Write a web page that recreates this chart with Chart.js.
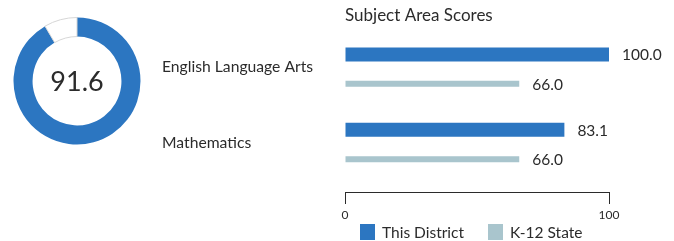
<!DOCTYPE html>
<html>
<head>
<meta charset="utf-8">
<script src="https://cdn.jsdelivr.net/npm/chart.js@4"></script>
<style>
    html, body { margin: 0; padding: 0; background: #fff; }
    #wrap { position: relative; width: 674px; height: 241px; overflow: hidden; font-family: Lato, "Open Sans", sans-serif; }
    #scoreChart { position: absolute; left: 13px; top: 17px; }
    #subjectChart { position: absolute; left: 0; top: 0; }
    #legend { position: absolute; left: 360px; top: 224px; margin: 0; padding: 0; list-style: none; display: flex; }
    #legend li { display: flex; align-items: center; margin-right: 24px; font-size: 15.5px; line-height: 16px; color: #2b2b2b; }
    #legend .swatch { display: inline-block; width: 15px; height: 16px; margin-right: 7px; }
</style>
</head>
<body>
<div id="wrap">
    <canvas id="subjectChart" width="674" height="241"></canvas>
    <canvas id="scoreChart" width="128" height="128"></canvas>
    <ul id="legend"></ul>
</div>
<script>
const overallScore = [91.6, 8.4];

const subjects = ['English Language Arts', 'Mathematics'];
const districtScores = [100.0, 83.1];
const stateScores = [66.0, 66.0];
const seriesNames = ['This District', 'K-12 State'];
const axisTicks = [0, 100];

const blue = '#2c76c1';
const paleBlue = '#a9c5cd';
const textColor = '#2b2b2b';
const fontFamily = 'Lato, "Open Sans", sans-serif';

// --- donut with the overall score ---
const centerText = {
    id: 'centerText',
    afterDraw(chart) {
        const { ctx, chartArea } = chart;
        ctx.save();
        ctx.font = '27px ' + fontFamily;
        ctx.fillStyle = textColor;
        ctx.textAlign = 'center';
        ctx.textBaseline = 'middle';
        ctx.fillText(overallScore[0].toFixed(1), (chartArea.left + chartArea.right) / 2, (chartArea.top + chartArea.bottom) / 2 + 1);
        ctx.restore();
    }
};

new Chart(document.getElementById('scoreChart'), {
    type: 'doughnut',
    data: {
        datasets: [{
            data: overallScore,
            backgroundColor: [blue, '#ffffff'],
            borderColor: [blue, '#d6d6d6'],
            borderWidth: [0, 1]
        }]
    },
    options: {
        responsive: false,
        animation: false,
        cutout: '70%',
        plugins: { legend: { display: false }, tooltip: { enabled: false } }
    },
    plugins: [centerText]
});

// --- subject bars ---
const valueLabels = {
    id: 'valueLabels',
    afterDatasetsDraw(chart) {
        const ctx = chart.ctx;
        ctx.save();
        ctx.font = '15.5px ' + fontFamily;
        ctx.fillStyle = textColor;
        ctx.textAlign = 'left';
        ctx.textBaseline = 'middle';
        chart.data.datasets.forEach((ds, i) => {
            chart.getDatasetMeta(i).data.forEach((bar, j) => {
                ctx.fillText(ds.data[j].toFixed(1), bar.x + 13, bar.y + 1);
            });
        });
        ctx.restore();
    }
};

// legend as html so its spacing can follow the print
const htmlLegend = {
    id: 'htmlLegend',
    afterUpdate(chart) {
        const ul = document.getElementById('legend');
        ul.innerHTML = '';
        chart.options.plugins.legend.labels.generateLabels(chart).forEach(item => {
            const li = document.createElement('li');
            const box = document.createElement('span');
            box.className = 'swatch';
            box.style.background = item.fillStyle;
            li.appendChild(box);
            li.appendChild(document.createTextNode(item.text));
            ul.appendChild(li);
        });
    }
};

new Chart(document.getElementById('subjectChart'), {
    type: 'bar',
    data: {
        labels: subjects,
        datasets: [
            { label: seriesNames[0], data: districtScores, backgroundColor: blue, maxBarThickness: 14 },
            { label: seriesNames[1], data: stateScores, backgroundColor: paleBlue, maxBarThickness: 6 }
        ]
    },
    options: {
        indexAxis: 'y',
        responsive: false,
        animation: false,
        categoryPercentage: 0.78,
        barPercentage: 1,
        layout: { padding: { left: 162, right: 65, top: 4, bottom: 14 } },
        scales: {
            y: {
                grid: { display: false },
                border: { display: false },
                ticks: { color: textColor, font: { family: fontFamily, size: 15.7 }, crossAlign: 'far', labelOffset: -2 },
                afterFit(scale) { scale.width = 183; },
                // a little spare room under the last subject, above the axis
                afterBuildTicks(scale) { scale._valueRange += 0.129; }
            },
            x: {
                min: axisTicks[0],
                max: axisTicks[1],
                afterBuildTicks(scale) { scale.ticks = axisTicks.map(v => ({ value: v })); },
                grid: { drawOnChartArea: false, tickLength: 12, color: textColor },
                border: { color: textColor, width: 1 },
                ticks: { color: textColor, font: { family: fontFamily, size: 12 }, padding: 4.3, maxRotation: 0 }
            }
        },
        plugins: {
            title: {
                display: true,
                text: 'Subject Area Scores',
                align: 'start',
                fullSize: false,
                color: textColor,
                font: { family: fontFamily, size: 17, weight: 'normal' },
                padding: { top: 1, bottom: 6 }
            },
            legend: { display: false },
            tooltip: { enabled: false }
        }
    },
    plugins: [valueLabels, htmlLegend]
});
</script>
</body>
</html>
